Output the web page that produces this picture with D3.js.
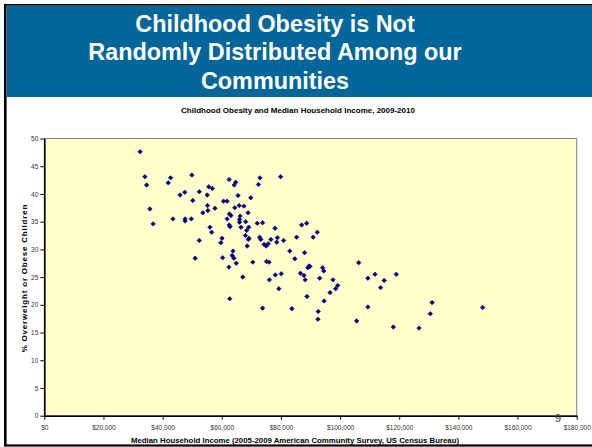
<!DOCTYPE html>
<html>
<head>
<meta charset="utf-8">
<script src="https://cdn.jsdelivr.net/npm/d3@7"></script>
<style>
  body { margin: 0; background: #fff; }
  svg { display: block; font-family: Arial, "Liberation Sans", sans-serif; }
</style>
</head>
<body>
<div id="chart"></div>
<script>
// median household income (dollars) and % overweight/obese children, one entry per community
const income = [
  32400, 34000, 34600, 35700, 36800, 41900, 42700, 43500, 45900, 47500,
  47600, 47600, 49700, 49900, 50200, 52400, 52400, 51000, 55100, 55600,
  56800, 55200, 55300, 53600, 57700, 56000, 56600, 60100, 59700, 60300,
  60600, 61800, 62500, 64700, 64200, 65500, 69800, 72400, 72900, 79900,
  65900, 67500, 64400, 68900, 62600, 63100, 66200, 66000, 61800, 68100,
  66000, 72000, 73800, 62500, 62800, 66500, 69100, 78000, 68400, 68000,
  69200, 69000, 72800, 73200, 76600, 78800, 78600, 80900, 74300, 75000,
  75700, 68600, 83000, 63800, 63500, 64100, 64900, 62400, 70500, 75100,
  76000, 80100, 78100, 67100, 76100, 79300, 62700, 73800, 87000, 88700,
  92300, 85300, 90900, 88000, 84700, 89500, 89100, 89800, 94100, 94500,
  86600, 87800, 88200, 93100, 106300, 97600, 99200, 98500, 96600, 109400,
  111800, 114900, 119000, 113700, 88800, 94600, 83700, 109400, 92600, 92500,
  105600, 118000, 131100, 130500, 148200, 126700
];
const obesity = [
  47.6, 43.1, 41.6, 37.3, 34.6, 42.0, 42.9, 35.5, 39.8, 40.3,
  35.5, 35.1, 35.5, 43.4, 38.8, 40.4, 31.6, 28.4, 39.8, 41.3,
  41.0, 37.9, 37.0, 36.6, 37.4, 34.0, 33.1, 32.0, 31.2, 28.5,
  38.7, 38.7, 42.6, 42.1, 41.6, 39.7, 39.3, 41.7, 42.9, 43.1,
  37.9, 37.8, 37.5, 36.6, 36.4, 36.1, 36.0, 35.4, 35.5, 35.0,
  34.9, 34.7, 34.8, 34.4, 34.1, 34.0, 34.0, 33.8, 33.4, 32.5,
  32.0, 31.8, 32.2, 31.8, 31.8, 32.1, 31.3, 31.6, 30.9, 30.6,
  31.0, 30.6, 29.7, 29.7, 28.9, 28.4, 27.5, 26.8, 27.7, 27.8,
  27.7, 25.6, 25.4, 25.0, 24.5, 22.9, 21.1, 19.4, 34.4, 34.7,
  33.1, 32.2, 32.2, 29.4, 28.3, 27.0, 26.7, 26.9, 26.7, 26.1,
  25.7, 25.3, 24.5, 24.8, 27.6, 24.5, 23.5, 22.9, 22.2, 24.8,
  25.5, 24.4, 25.5, 23.1, 21.5, 20.7, 19.3, 19.6, 18.8, 17.4,
  17.1, 16.0, 20.4, 18.4, 19.5, 15.8
];

const titleLines = ["Childhood Obesity is Not", "Randomly Distributed Among our", "Communities"];
const chartTitle = "Childhood Obesity and Median Household Income, 2009-2010";
const xTitle = "Median Household Income (2005-2009 American Community Survey, US Census Bureau)";
const yTitle = "% Overweight or Obese Children";
const xTicks = [0, 20000, 40000, 60000, 80000, 100000, 120000, 140000, 160000, 180000];
const yTicks = [0, 5, 10, 15, 20, 25, 30, 35, 40, 45, 50];

const W = 592, H = 447;
const plot = {left: 44.3, top: 138.5, right: 576.7, bottom: 415.7};

const svg = d3.select("#chart").append("svg")
    .attr("width", W)
    .attr("height", H);

// slide frame + blue banner
svg.append("rect").attr("x", 7).attr("y", 5.5).attr("width", W - 7).attr("height", 91.5)
    .attr("fill", "#03669b");
svg.append("rect").attr("x", 4).attr("y", 4).attr("width", W - 4).attr("height", 1.6).attr("fill", "#000");
svg.append("rect").attr("x", 4).attr("y", 4).attr("width", 2.6).attr("height", 442).attr("fill", "#000");

svg.append("g").selectAll("text")
    .data(titleLines)
    .enter()
    .append("text")
    .attr("x", 275)
    .attr("y", (d, i) => 31.5 + i * 28.7)
    .attr("text-anchor", "middle")
    .attr("fill", "#fff")
    .style("font-size", "23.4px")
    .style("font-weight", "bold")
    .text(d => d);

svg.append("text")
    .attr("x", 298)
    .attr("y", 113)
    .attr("text-anchor", "middle")
    .style("font-size", "8px")
    .style("font-weight", "bold")
    .text(chartTitle);

const x = d3.scaleLinear().domain([0, 180000]).range([plot.left, plot.right]);
const y = d3.scaleLinear().domain([0, 50]).range([plot.bottom, plot.top]);

// plot area
svg.append("rect")
    .attr("x", plot.left).attr("y", plot.top)
    .attr("width", plot.right - plot.left).attr("height", plot.bottom - plot.top)
    .attr("fill", "#ffffcc")
    .attr("stroke", "#808080")
    .attr("stroke-width", 1);

// points (Excel style diamonds)
const diamond = d3.symbol().type(d3.symbolSquare).size(10);
svg.append("g").selectAll("path")
    .data(income.map((v, i) => [v, obesity[i]]))
    .enter()
    .append("path")
    .attr("d", diamond)
    .attr("transform", d => `translate(${x(d[0])},${y(d[1])}) rotate(45)`)
    .attr("fill", "#000080")
    .attr("stroke", "#000080")
    .attr("stroke-width", 0.6);

// axes
const yAxis = svg.append("g")
    .attr("transform", `translate(${plot.left},0)`)
    .call(d3.axisLeft(y).tickValues(yTicks).tickSize(4).tickSizeOuter(0).tickPadding(2));
const xAxis = svg.append("g")
    .attr("transform", `translate(0,${plot.bottom})`)
    .call(d3.axisBottom(x).tickValues(xTicks).tickFormat(d3.format("$,")).tickSize(4).tickSizeOuter(0).tickPadding(6));

[yAxis, xAxis].forEach(ax => {
    ax.select(".domain").attr("stroke", "#000").attr("stroke-width", 1.6);
    ax.selectAll(".tick line").attr("stroke", "#000").attr("stroke-width", 1);
    ax.selectAll(".tick text")
        .attr("fill", "#333")
        .style("font-size", "6.5px")
        .style("font-family", "Arial, 'Liberation Sans', sans-serif");
});

svg.append("text")
    .attr("transform", `translate(27,${(plot.top + plot.bottom) / 2 + 1}) rotate(-90)`)
    .attr("text-anchor", "middle")
    .style("font-size", "8px")
    .style("font-weight", "bold")
    .style("letter-spacing", "0.8px")
    .text(yTitle);

svg.append("text")
    .attr("x", 295)
    .attr("y", 443.2)
    .attr("text-anchor", "middle")
    .style("font-size", "7.8px")
    .style("font-weight", "bold")
    .text(xTitle);

// slide number
svg.append("text")
    .attr("x", 558)
    .attr("y", 421.5)
    .attr("text-anchor", "middle")
    .attr("fill", "#444")
    .style("font-size", "11px")
    .text("9");

// bottom frame line
svg.append("rect").attr("x", 4).attr("y", 444.4).attr("width", W - 4).attr("height", 2.2).attr("fill", "#000");
</script>
</body>
</html>
